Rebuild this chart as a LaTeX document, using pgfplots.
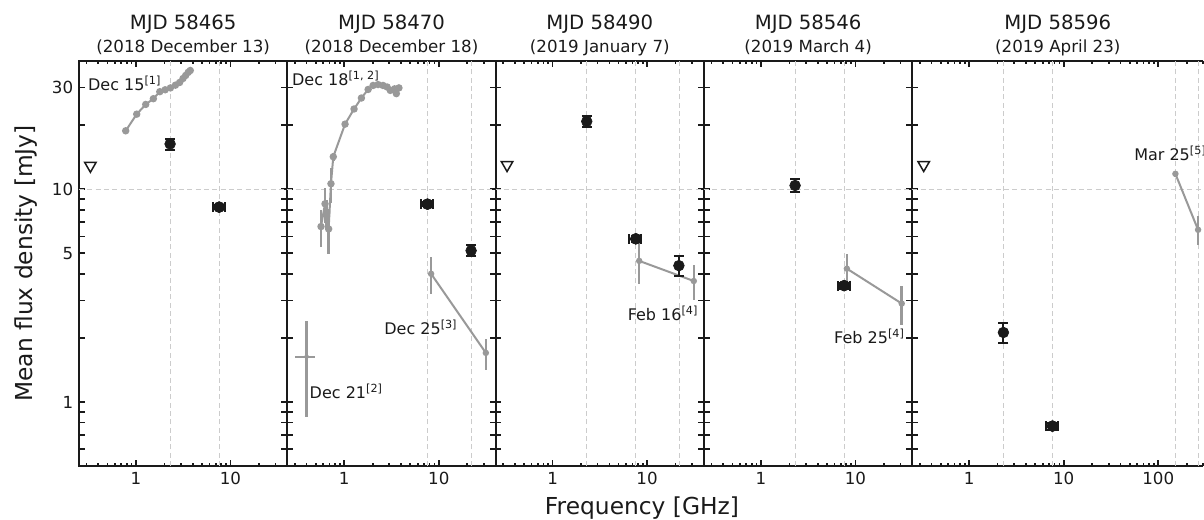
\documentclass[border=0pt]{standalone}
\usepackage{fontspec}
\setmainfont{DejaVu Sans}
\usepackage{pgfplots}
\pgfplotsset{compat=1.18}

\definecolor{ink}{HTML}{1A1A1A}
\definecolor{litgray}{HTML}{999999}
\definecolor{gridc}{HTML}{CCCCCC}

\newcommand{\ttlfont}{\fontsize{11.8}{14}\selectfont}
\newcommand{\subfont}{\fontsize{10}{12}\selectfont}
\newcommand{\annfont}{\fontsize{9.6}{11}\selectfont}

\pgfplotsset{
  panel/.style={
    scale only axis, width=125pt, height=243pt,
    xmin=0.25, xmax=40, ymin=0.5, ymax=40,
    clip=false,
    axis line style={ink, line width=1.1pt},
    tick style={ink, line width=1.0pt},
    tick align=inside,
    major tick length=3.5pt, minor tick length=2pt,
    xtick={1,10}, xticklabels={1,10},
    minor xtick={0.3,0.4,0.5,0.6,0.7,0.8,0.9,2,3,4,5,6,7,8,9,20,30},
    ytick={0.6,0.7,0.8,0.9,1,2,3,4,5,6,7,8,9,10,20,30},
    yticklabels={},
    ticklabel style={font=\fontsize{10}{12}\selectfont, text=ink},
    extra y ticks={10}, extra y tick labels={},
    extra tick style={grid=major, major tick length=0pt},
    grid style={gridc, line width=0.6pt, dash pattern=on 3pt off 2pt},
  },
  % observed points, y errors with caps
  obsy/.style={only marks, mark=*, mark size=3.2pt, color=ink,
    mark options={fill=ink, draw=ink},
    error bars/y dir=both, error bars/y explicit,
    error bars/error mark=|,
    error bars/error bar style={line width=1.2pt, ink},
    error bars/error mark options={ink, line width=1.2pt, mark size=3pt}},
  % observed points, x errors with caps
  obsx/.style={only marks, mark=*, mark size=3.2pt, color=ink,
    mark options={fill=ink, draw=ink},
    error bars/x dir=both, error bars/x explicit,
    error bars/error mark=|,
    error bars/error bar style={line width=1.2pt, ink},
    error bars/error mark options={ink, line width=1.2pt, mark size=3pt}},
  lit/.style={color=litgray, line width=1.2pt, mark=*, mark size=1.6pt,
    mark options={fill=litgray, draw=litgray},
    error bars/y dir=both, error bars/y explicit,
    error bars/error mark=none,
    error bars/error bar style={line width=1.5pt, litgray}},
  ulim/.style={only marks, mark=triangle, mark size=4pt,
    mark options={rotate=180, draw=ink, fill=white, line width=0.9pt}},
}

\begin{document}
\begin{tikzpicture}

% MJD 58465
\begin{loglogaxis}[panel, name=p1, at={(0,0)}, anchor=south west,
    yticklabels={,,,,1,,,,5,,,,,10,,30},
    extra x ticks={2.3,7.6}, extra x tick labels={}]
\addplot[lit] coordinates {(0.78,18.8) (1.02,22.5) (1.27,25.0) (1.53,26.6) (1.79,28.7) (2.04,29.3) (2.32,29.9) (2.62,30.8) (2.90,31.7) (3.15,33.1) (3.36,34.2) (3.58,35.4) (3.76,36.1)};
\addplot[obsy] coordinates {(2.3,16.3) +- (0,0.95) (7.6,8.23) +- (0,0.2)};
\addplot[obsx] coordinates {(7.6,8.23) +- (1.1,0)};
\addplot[ulim] coordinates {(0.33,12.9)};
\node[anchor=west, inner sep=0pt, font=\annfont, text=ink] at (axis cs:0.31,31.3) {Dec 15\textsuperscript{[1]}};
\node[anchor=base, yshift=18.6pt, font=\ttlfont, text=ink] at (rel axis cs:0.5,1) {MJD 58465};
\node[anchor=base, yshift=4.8pt, font=\subfont, text=ink] at (rel axis cs:0.5,1) {(2018 December 13)};
\end{loglogaxis}

% MJD 58470
\begin{loglogaxis}[panel, name=p2, at={(p1.south east)}, anchor=south west,
    extra x ticks={7.6,22}, extra x tick labels={}]
\addplot[lit] coordinates {(0.568,6.67) +- (0,1.35) (0.626,8.53) +- (0,1.6) (0.652,7.71) +- (0,1.2) (0.684,6.5) +- (0,1.55) (0.724,10.6) +- (0,2.0) (0.766,14.2) +- (0,0.6) (1.02,20.2) +- (0,0) (1.27,23.8) +- (0,0) (1.52,26.8) +- (0,0) (1.79,29.4) +- (0,0) (2.02,30.7) +- (0,0) (2.28,31.0) +- (0,0) (2.57,30.7) +- (0,0) (2.84,30.2) +- (0,0) (3.07,29.1) +- (0,0) (3.41,29.6) +- (0,0) (3.56,28.1) +- (0,0) (3.79,29.9) +- (0,0)};
\addplot[lit, mark size=1pt, error bars/x dir=both, error bars/x explicit] coordinates {(0.40,1.63) +- (0.095,0.78)};
\addplot[lit, mark size=1.3pt] coordinates {(8.3,4.0) +- (0,0.8) (31.5,1.70) +- (0,0.28)};
\addplot[obsy] coordinates {(7.6,8.5) +- (0,0.2) (22,5.14) +- (0,0.3)};
\addplot[obsx] coordinates {(7.6,8.5) +- (1.1,0)};
\node[anchor=west, inner sep=0pt, font=\annfont, text=ink] at (axis cs:0.279,33.0) {Dec 18\textsuperscript{[1, 2]}};
\node[anchor=west, inner sep=0pt, font=\annfont, text=ink] at (axis cs:0.428,1.12) {Dec 21\textsuperscript{[2]}};
\node[anchor=east, inner sep=0pt, font=\annfont, text=ink] at (axis cs:15.9,2.23) {Dec 25\textsuperscript{[3]}};
\node[anchor=base, yshift=18.6pt, font=\ttlfont, text=ink] at (rel axis cs:0.5,1) {MJD 58470};
\node[anchor=base, yshift=4.8pt, font=\subfont, text=ink] at (rel axis cs:0.5,1) {(2018 December 18)};
\end{loglogaxis}

% MJD 58490
\begin{loglogaxis}[panel, name=p3, at={(p2.south east)}, anchor=south west,
    extra x ticks={2.3,7.6,22}, extra x tick labels={}]
\addplot[lit, mark size=1.3pt] coordinates {(8.25,4.6) +- (0,1.0) (31.2,3.70) +- (0,0.7)};
\addplot[obsy] coordinates {(2.3,20.8) +- (0,1.2) (7.6,5.84) +- (0,0.2) (21.7,4.37) +- (0,0.47)};
\addplot[obsx] coordinates {(7.6,5.84) +- (1.1,0)};
\addplot[ulim] coordinates {(0.33,13.0)};
\node[anchor=east, inner sep=0pt, font=\annfont, text=ink] at (axis cs:35.1,2.61) {Feb 16\textsuperscript{[4]}};
\node[anchor=base, yshift=18.6pt, font=\ttlfont, text=ink] at (rel axis cs:0.5,1) {MJD 58490};
\node[anchor=base, yshift=4.8pt, font=\subfont, text=ink] at (rel axis cs:0.5,1) {(2019 January 7)};
\end{loglogaxis}

% MJD 58546
\begin{loglogaxis}[panel, name=p4, at={(p3.south east)}, anchor=south west,
    extra x ticks={2.3,7.6}, extra x tick labels={}]
\addplot[lit, mark size=1.3pt] coordinates {(8.12,4.23) +- (0,0.73) (30.9,2.90) +- (0,0.6)};
\addplot[obsy] coordinates {(2.3,10.4) +- (0,0.7) (7.6,3.52) +- (0,0.12)};
\addplot[obsx] coordinates {(7.6,3.52) +- (1.1,0)};
\node[anchor=east, inner sep=0pt, font=\annfont, text=ink] at (axis cs:33.5,2.04) {Feb 25\textsuperscript{[4]}};
\node[anchor=base, yshift=18.6pt, font=\ttlfont, text=ink] at (rel axis cs:0.5,1) {MJD 58546};
\node[anchor=base, yshift=4.8pt, font=\subfont, text=ink] at (rel axis cs:0.5,1) {(2019 March 4)};
\end{loglogaxis}

% MJD 58596
\begin{loglogaxis}[panel, name=p5, at={(p4.south east)}, anchor=south west,
    width=174.6pt, xmax=300, axis y line*=left,
    xtick={1,10,100}, xticklabels={1,10,100},
    minor xtick={0.3,0.4,0.5,0.6,0.7,0.8,0.9,2,3,4,5,6,7,8,9,20,30,40,50,60,70,80,90,200,300},
    extra x ticks={2.3,7.6,152,264}, extra x tick labels={}]
\addplot[lit, mark size=1.3pt] coordinates {(152,11.8) +- (0,0.4) (264,6.44) +- (0,1.0)};
\addplot[obsy] coordinates {(2.3,2.12) +- (0,0.23) (7.6,0.77) +- (0,0.03)};
\addplot[obsx] coordinates {(7.6,0.77) +- (1.1,0)};
\addplot[ulim] coordinates {(0.33,13.0)};
\node[anchor=west, inner sep=0pt, font=\annfont, text=ink] at (axis cs:55.3,14.7) {Mar 25\textsuperscript{[5]}};
\node[anchor=base, yshift=18.6pt, font=\ttlfont, text=ink] at (rel axis cs:0.5,1) {MJD 58596};
\node[anchor=base, yshift=4.8pt, font=\subfont, text=ink] at (rel axis cs:0.5,1) {(2019 April 23)};
\end{loglogaxis}

\node[rotate=90, anchor=base, font=\fontsize{14}{16}\selectfont, text=ink] at (-27.6pt,121.5pt) {Mean flux density [mJy]};
\node[anchor=base, font=\fontsize{14}{16}\selectfont, text=ink] at (337.8pt,-29.4pt) {Frequency [GHz]};

\pgfresetboundingbox
\path[use as bounding box] (-47.4pt,-32.4pt) rectangle (675pt,279.6pt);
\end{tikzpicture}
\end{document}
